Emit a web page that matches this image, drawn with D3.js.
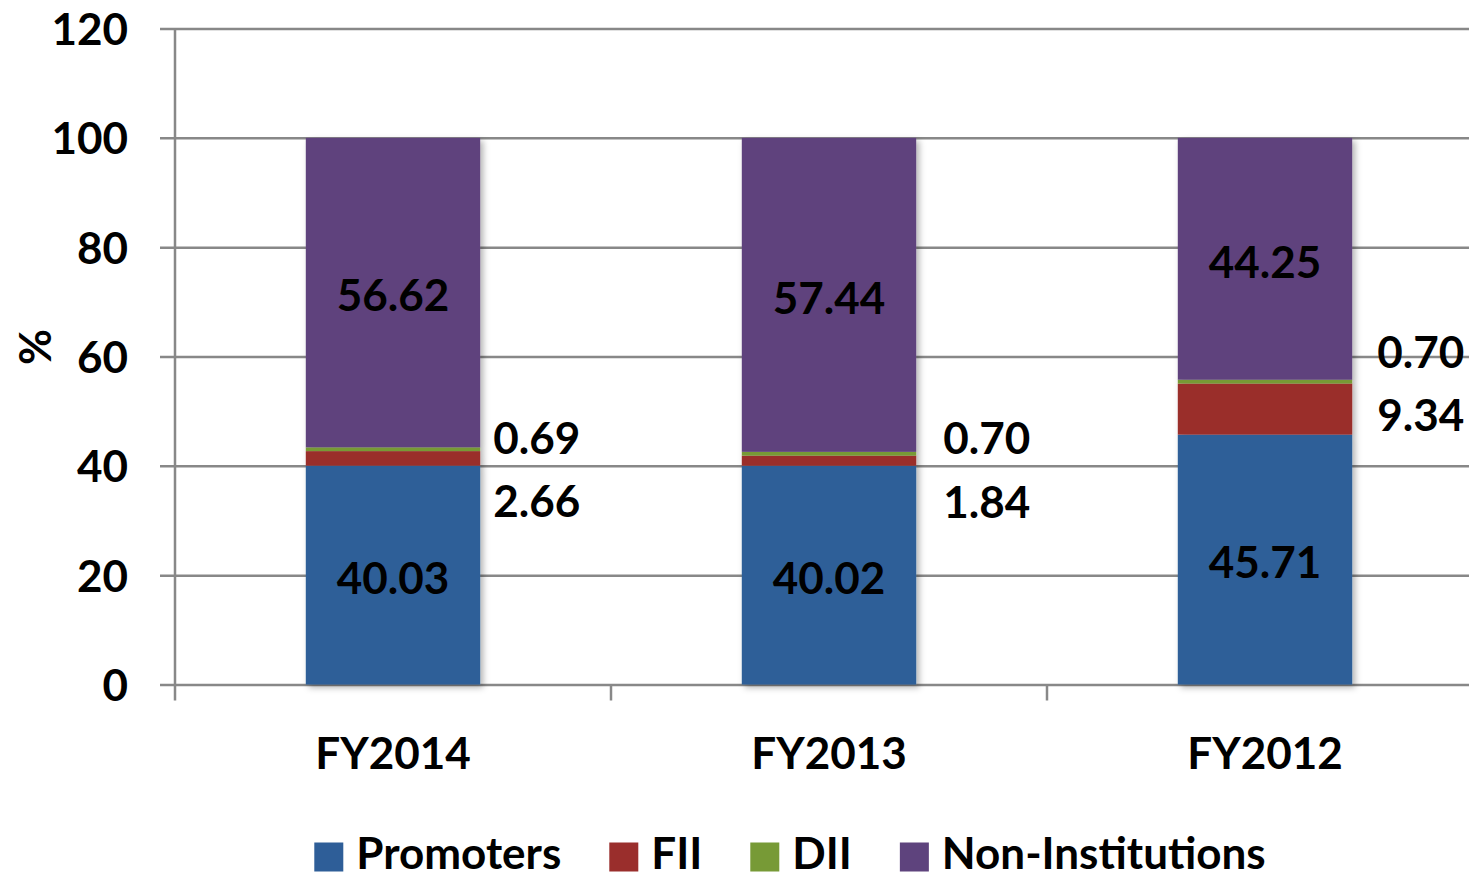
<!DOCTYPE html>
<html>
<head>
<meta charset="utf-8">
<script src="https://cdn.jsdelivr.net/npm/d3@7"></script>
<style>
  html, body { margin: 0; padding: 0; background: #fff; }
  svg { display: block; }
  text { font-family: Lato, "Open Sans", "Liberation Sans", sans-serif; font-weight: 700; fill: #000; }
</style>
</head>
<body>
<svg id="chart" width="1469" height="877"></svg>
<script>
// ---- data ----
const categories = ["FY2014", "FY2013", "FY2012"];
const seriesNames = ["Promoters", "FII", "DII", "Non-Institutions"];
const promoters = [40.03, 40.02, 45.71];
const fii = [2.66, 1.84, 9.34];
const dii = [0.69, 0.70, 0.70];
const nonInstitutions = [56.62, 57.44, 44.25];
const yTicks = [0, 20, 40, 60, 80, 100, 120];
const yLabel = "%";

// ---- styling / layout ----
const colors = ["#2E5E98", "#9A2E2C", "#779A36", "#5E437D"];
const W = 1469, H = 877;
const x0 = 175, x1 = 1483, yTop = 28.5, yBottom = 684.5;
const fontSize = 44;
// manual nudges for the small outside labels (pixels), per category
const outsideNudge = [
  { dx: 13, dii: -9,  fii: 35 },
  { dx: 27, dii: -14, fii: 36 },
  { dx: 25, dii: -28, fii: -19 }
];

const svg = d3.select("#chart");

const defs = svg.append("defs");
const f = defs.append("filter").attr("id", "shadow")
  .attr("x", "-10%").attr("y", "-10%").attr("width", "130%").attr("height", "130%");
f.append("feDropShadow").attr("dx", 3).attr("dy", 3).attr("stdDeviation", 3)
  .attr("flood-color", "#000").attr("flood-opacity", 0.3);

const x = d3.scaleBand().domain(categories).range([x0, x1])
  .paddingInner(0.6).paddingOuter(0.3);
const y = d3.scaleLinear().domain([0, 120]).range([yBottom, yTop]);

const table = categories.map((c, i) => ({
  cat: c,
  Promoters: promoters[i],
  FII: fii[i],
  DII: dii[i],
  "Non-Institutions": nonInstitutions[i]
}));
const stacked = d3.stack().keys(seriesNames)(table);

// gridlines + y axis
const yAxis = d3.axisLeft(y).tickValues(yTicks).tickSize(-(W - x0)).tickSizeOuter(0)
  .tickPadding(47);
const gy = svg.append("g").attr("transform", `translate(${x0},0)`).call(yAxis);
gy.select(".domain").remove();
gy.selectAll(".tick line").attr("x1", -15).attr("stroke", "#888").attr("stroke-width", 2.5);
gy.selectAll(".tick text").attr("font-size", fontSize).attr("font-family", null)
  .attr("dy", "0.36em");

// y axis line
svg.append("line").attr("x1", x0).attr("x2", x0).attr("y1", yTop).attr("y2", yBottom + 16)
  .attr("stroke", "#888").attr("stroke-width", 2.5);

// x axis ticks (category boundaries)
const boundaries = categories.map(c => x(c) - x.step() * x.paddingInner() / 2);
svg.append("g").selectAll("line").data(boundaries.slice(1)).join("line")
  .attr("x1", d => d).attr("x2", d => d).attr("y1", yBottom).attr("y2", yBottom + 16)
  .attr("stroke", "#888").attr("stroke-width", 2.5);

// x axis labels
const xAxis = d3.axisBottom(x).tickSize(0).tickPadding(0);
const gx = svg.append("g").attr("transform", `translate(0,${yBottom})`).call(xAxis);
gx.select(".domain").remove();
gx.selectAll(".tick text").attr("font-size", fontSize).attr("font-family", null)
  .attr("y", 69).attr("dy", "0.36em");

// bars
const gBars = svg.append("g").attr("filter", "url(#shadow)");
stacked.forEach((s, si) => {
  gBars.append("g").attr("fill", colors[si]).selectAll("rect").data(s).join("rect")
    .attr("x", d => x(d.data.cat))
    .attr("width", x.bandwidth())
    .attr("y", d => y(d[1]))
    .attr("height", d => y(d[0]) - y(d[1]));
});

// inside labels (Promoters, Non-Institutions)
[0, 3].forEach(si => {
  svg.append("g").selectAll("text").data(stacked[si]).join("text")
    .attr("x", d => x(d.data.cat) + x.bandwidth() / 2)
    .attr("y", d => (y(d[0]) + y(d[1])) / 2 + 3)
    .attr("dy", "0.36em")
    .attr("text-anchor", "middle")
    .attr("font-size", fontSize)
    .text(d => d3.format(".2f")(d[1] - d[0]));
});

// outside labels (FII, DII)
svg.append("g").selectAll("text").data(stacked[2]).join("text")
  .attr("x", (d, i) => x(d.data.cat) + x.bandwidth() + outsideNudge[i].dx)
  .attr("y", (d, i) => y(d[1]) + outsideNudge[i].dii)
  .attr("dy", "0.36em")
  .attr("font-size", fontSize)
  .text(d => d3.format(".2f")(d[1] - d[0]));
svg.append("g").selectAll("text").data(stacked[1]).join("text")
  .attr("x", (d, i) => x(d.data.cat) + x.bandwidth() + outsideNudge[i].dx)
  .attr("y", (d, i) => y(d[0]) + outsideNudge[i].fii)
  .attr("dy", "0.36em")
  .attr("font-size", fontSize)
  .text(d => d3.format(".2f")(d[1] - d[0]));

// y label
svg.append("text")
  .attr("transform", "translate(35,347) rotate(-90)")
  .attr("text-anchor", "middle").attr("dy", "0.36em")
  .attr("font-size", fontSize)
  .text(yLabel);

// legend
const legend = svg.append("g");
const sq = 29, gapText = 13, gapItem = 48, legendY = 853, legendCenter = 790;
const items = legend.selectAll("g").data(seriesNames).join("g");
items.append("rect").attr("width", sq).attr("height", sq).attr("y", -sq / 2 + 4)
  .attr("fill", (d, i) => colors[i]);
items.append("text").attr("x", sq + gapText).attr("dy", "0.36em")
  .attr("font-size", fontSize).text(d => d);
let cx = 0;
const widths = [];
items.each(function () {
  const w = sq + gapText + d3.select(this).select("text").node().getComputedTextLength();
  widths.push(w);
});
const total = d3.sum(widths) + gapItem * (widths.length - 1);
cx = legendCenter - total / 2;
items.attr("transform", (d, i) => {
  const t = `translate(${cx},${legendY})`;
  cx += widths[i] + gapItem;
  return t;
});
</script>
</body>
</html>
